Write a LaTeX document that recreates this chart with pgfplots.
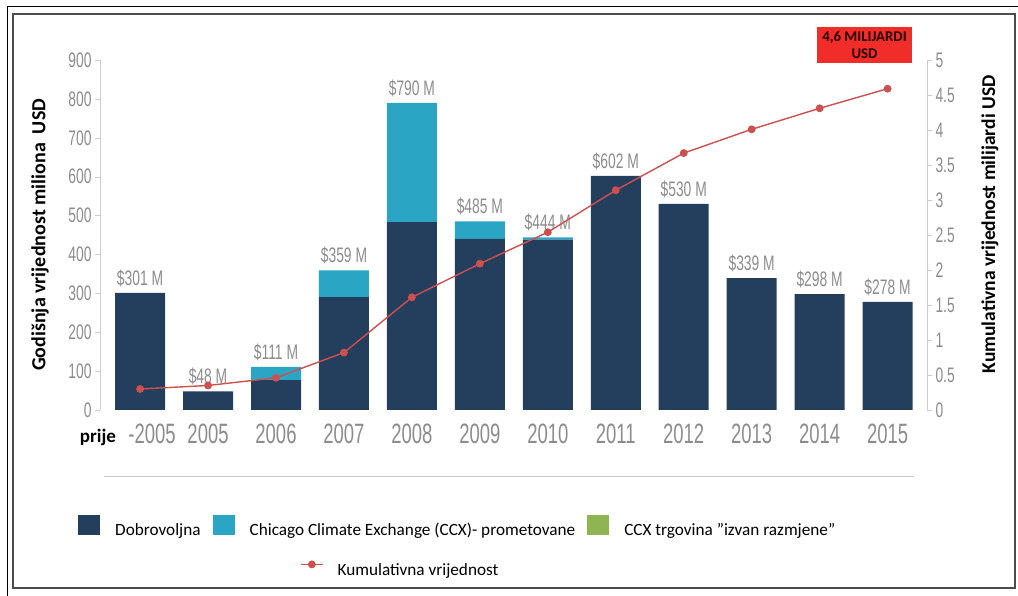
\documentclass[border=0pt]{standalone}
\usepackage{fontspec}
\setmainfont{Carlito}
\newfontfamily\cond[FakeStretch=0.66]{Liberation Sans}
\usepackage{pgfplots}
\usepackage{pgfplotstable}
\pgfplotsset{compat=1.18}

\definecolor{navy}{RGB}{36,62,94}
\definecolor{ccx}{RGB}{42,166,196}
\definecolor{otc}{RGB}{141,182,82}
\definecolor{cumred}{RGB}{205,80,80}
\definecolor{boxred}{RGB}{240,45,40}
\definecolor{tickgray}{RGB}{140,140,140}

% annual value, million USD
\pgfplotstableread{
x vol ccx total
0 301 0 301
1 48 0 48
2 77 34 111
3 290 69 359
4 483 307 790
5 440 45 485
6 438 6 444
7 602 0 602
8 530 0 530
9 339 0 339
10 298 0 298
11 278 0 278
}\annual

% cumulative value, billion USD
\pgfplotstableread{
x cum
0 0.30
1 0.35
2 0.46
3 0.82
4 1.61
5 2.09
6 2.54
7 3.14
8 3.67
9 4.01
10 4.31
11 4.59
}\cumul

\pgfplotsset{
  sq legend/.style={legend image code/.code={\fill[##1] (0pt,-4.4pt) rectangle (22pt,15.6pt);}},
  both axes/.style={
    at={(100pt,186pt)}, anchor=south west,
    scale only axis, width=827pt, height=350pt,
    xmin=-0.59, xmax=11.58,
    tick align=outside, major tick length=5pt,
    y axis line style={draw=black!20},
    ytick style={draw=black!20},
    yticklabel style={font=\cond\fontsize{21}{21}\selectfont, text=tickgray},
  },
}

\begin{document}
\begin{tikzpicture}
\useasboundingbox (0pt,0pt) rectangle (1018pt,596pt);
\draw[line width=0.8pt] (7pt,0pt) -- (7pt,590pt) -- (1018pt,590pt);
\draw[line width=2pt, draw=black!70] (13pt,8pt) rectangle (1015pt,582pt);
\draw[black!20, line width=1pt] (104pt,119pt) -- (914pt,119pt);

\begin{axis}[
  both axes,
  ymin=0, ymax=900,
  ybar stacked, bar width=50pt,
  axis y line*=left, axis x line*=bottom,
  x axis line style={draw=none},
  xtick={0,...,11},
  xticklabels={\hspace*{24pt}-2005,2005,2006,2007,2008,2009,2010,2011,2012,2013,2014,2015},
  xtick style={draw=none},
  xticklabel style={font=\cond\fontsize{28}{28}\selectfont, text=tickgray, yshift=-5pt},
  ytick={0,100,...,900},
  yticklabels={0,100,200,300,400,500,600,700,800,900},
  every axis y label/.style={at={(axis description cs:-0.0726,0.5)}, rotate=90, anchor=center,
    font=\bfseries\fontsize{20}{20}\selectfont},
  ylabel={Godišnja vrijednost miliona\ \ USD},
  legend style={at={(axis description cs:-0.0266,-0.334)}, anchor=west,
    draw=none, fill=none, inner sep=0pt, legend columns=3,
    font=\fontsize{17.2}{18}\selectfont,
    /tikz/every odd column/.append style={column sep=13pt},
    /tikz/every even column/.append style={column sep=10pt}},
  legend cell align=left,
]
\addplot[fill=navy, draw=none, sq legend] table[x=x, y=vol] {\annual};
\addlegendentry{Dobrovoljna}
\addplot[fill=ccx, draw=none, sq legend] table[x=x, y=ccx] {\annual};
\addlegendentry{Chicago Climate Exchange (CCX)- prometovane}
\addlegendimage{fill=otc, draw=none, sq legend}
\addlegendentry{CCX trgovina "izvan razmjene"}
\end{axis}

% value labels above the bars
\begin{axis}[
  both axes,
  ymin=0, ymax=900,
  hide axis,
  ybar, bar width=50pt,
]
\addplot[draw=none, fill=none,
  point meta=explicit symbolic,
  nodes near coords={\$\pgfplotspointmeta{} M},
  nodes near coords style={font=\cond\fontsize{21}{21}\selectfont, text=tickgray,
    anchor=south, inner sep=0pt, yshift=6pt}]
  table[x=x, y=total, meta=total] {\annual};
\end{axis}

\begin{axis}[
  both axes,
  ymin=0, ymax=5,
  axis y line*=right, axis x line=none,
  ytick={0,0.5,...,5},
  yticklabels={0,0.5,1,1.5,2,2.5,3,3.5,4,4.5,5},
  every axis y label/.style={at={(axis description cs:1.076,0.53)}, rotate=90, anchor=center,
    font=\bfseries\fontsize{19.5}{20}\selectfont},
  ylabel={Kumulativna vrijednost milijardi USD},
  legend style={at={(axis description cs:0.2418,-0.457)}, anchor=west,
    draw=none, fill=none, inner sep=0pt,
    font=\fontsize{17.2}{18}\selectfont,
    /tikz/every odd column/.append style={column sep=12pt}},
  legend image code/.code={\draw[mark repeat=2, mark phase=2, #1] plot coordinates {(0pt,5.6pt) (11pt,5.6pt) (22pt,5.6pt)};},
]
\addplot[cumred, line width=1.4pt, mark=*, mark size=3.2pt] table[x=x, y=cum] {\cumul};
\addlegendentry{Kumulativna vrijednost}
\end{axis}

\node[font=\bfseries\fontsize{19}{19}\selectfont] at (98pt,159pt) {prije};
\node[fill=boxred, minimum width=95pt, minimum height=36pt, inner sep=1pt, align=center,
  text=black!85!red, font=\bfseries\fontsize{14.8}{16.5}\selectfont] at (864.5pt,551pt) {4,6 MILIJARDI\\USD};
\end{tikzpicture}
\end{document}
